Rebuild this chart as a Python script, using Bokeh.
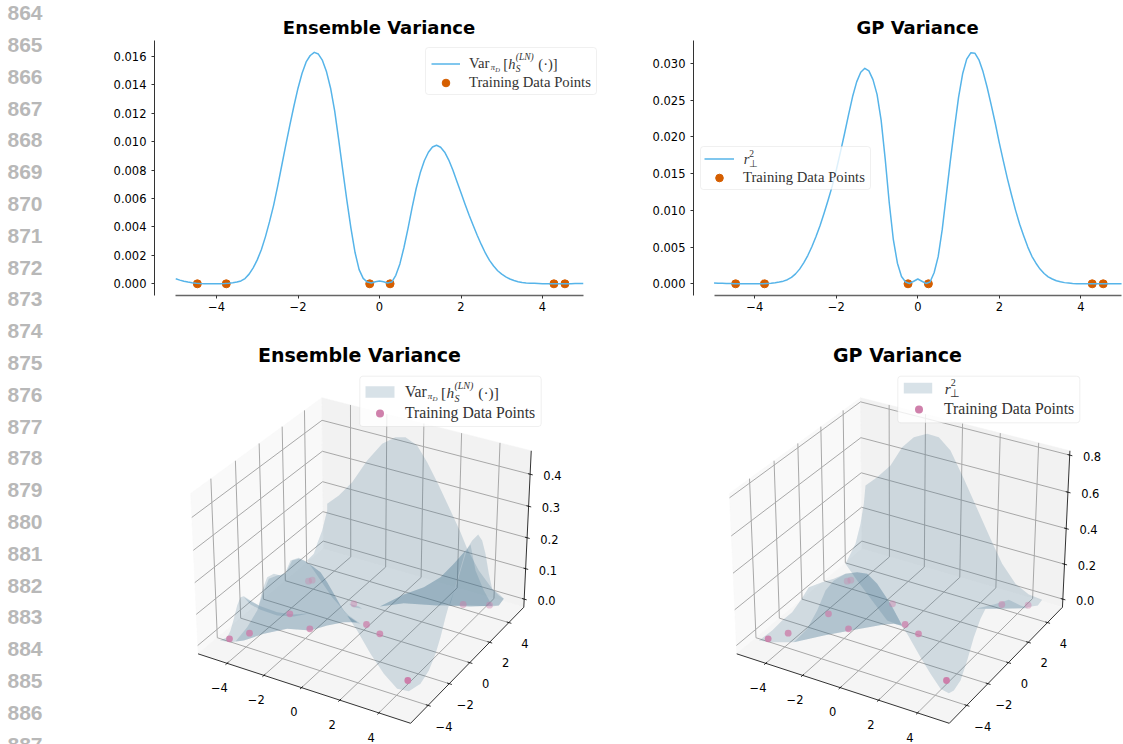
from bokeh.plotting import figure
from bokeh.layouts import row, column
from bokeh.models import (Range1d, FixedTicker, PrintfTickFormatter, Legend, LegendItem, Label, BoxAnnotation)
from bokeh.core.properties import value
from bokeh.embed import file_html
from bokeh.resources import INLINE
import numpy as np

# ------------------ data ------------------
LINE_NUMBERS = [str(n) for n in [864,865,866,867,868,869,870,871,872,873,874,875,876,877,878,879,880,881,882,883,884,885,886,887]]

CURVE_X = [round(-5 + 0.1 * i, 1) for i in range(101)]
ENSEMBLE_VAR = [0.35,0.26,0.18,0.12,0.07,0.04,0.02,0.01,0.0,0.0,0.0,0.01,0.02,0.04,0.07,0.12,0.2,0.37,0.68,1.12,
 1.68,2.4,3.3,4.35,5.5,6.85,8.3,9.75,11.15,12.5,13.75,14.8,15.6,16.05,16.27,16.15,15.7,14.9,13.75,12.15,
 10.1,7.95,5.85,3.9,2.2,1.0,0.38,0.12,0.06,0.14,0.2,0.14,0.05,0.12,0.6,1.4,2.55,3.9,5.35,6.7,
 7.8,8.65,9.25,9.62,9.74,9.6,9.25,8.7,8.0,7.2,6.4,5.6,4.82,4.1,3.4,2.75,2.15,1.65,1.25,0.92,
 0.68,0.49,0.34,0.23,0.15,0.09,0.06,0.04,0.03,0.02,0.01,0.01,0.0,0.0,0.0,0.01,0.01,0.01,0.02,0.02,0.02]
GP_VAR = [0.12,0.09,0.07,0.05,0.03,0.02,0.01,0.0,0.0,0.0,0.0,0.01,0.02,0.05,0.09,0.15,0.24,0.36,0.56,0.88,
 1.35,2.0,2.85,3.85,5.05,6.4,7.9,9.6,11.4,13.3,15.5,17.9,20.4,23.0,25.5,27.5,28.8,29.35,29.0,27.8,
 25.8,22.3,17.0,11.0,6.0,2.8,1.0,0.25,0.05,0.35,0.65,0.35,0.05,0.25,1.5,3.7,7.4,12.1,16.8,21.2,
 25.4,28.6,30.6,31.45,31.4,30.5,28.9,26.8,24.4,21.9,19.2,16.7,14.3,12.1,10.0,8.1,6.5,5.0,3.75,2.8,
 2.0,1.4,0.95,0.65,0.42,0.27,0.16,0.1,0.05,0.02,0.0,0.0,0.0,0.0,0.0,0.0,0.0,0.01,0.01,0.01,0.01]
TRAIN_X = [-4.47,-3.76,-0.24,0.26,4.28,4.55]
TRAIN_Y = [0,0,0,0,0,0]

X_TICKS = [-4,-2,0,2,4]
X_TICK_LABELS = ["\u22124","\u22122","0","2","4"]
A_Y_TICKS = [0,0.002,0.004,0.006,0.008,0.010,0.012,0.014,0.016]
B_Y_TICKS = [0,0.005,0.010,0.015,0.020,0.025,0.030]
C_Z_TICKS = [0.0,0.1,0.2,0.3,0.4]
C_Z_LABELS = ["0.0","0.1","0.2","0.3","0.4"]
D_Z_TICKS = [0.0,0.2,0.4,0.6,0.8]
D_Z_LABELS = ["0.0","0.2","0.4","0.6","0.8"]
XLIM3 = (-5.6,5.6)
YLIM3 = (-5.6,5.6)
C_ZLIM = (-0.027,0.472)
D_ZLIM = (-0.047,0.823)

# the 12 training points and surface silhouettes as they sit on the 3D panel's view plane
VIEW_X = [237,297,418,478,474,485,610,648,688,772,938,1017]
VIEW_Y = [895,878,820,865,722,719,790,852,880,1020,792,794]
VIEW_A = [0.85,0.75,0.65,0.7,0.3,0.3,0.4,0.7,0.75,0.95,0.45,0.4]

C_LAYERS = [
 [(530,490),(565,465),(605,425),(650,360),(695,310),(735,290),(765,290),(800,315),(830,365),(865,435),(900,510),(930,575),(950,625),(985,690),(1025,745),(1045,765),(1060,775),(1045,795),(960,798),(895,795),(885,830),(870,890),(855,940),(835,990),(810,1030),(775,1052),(740,1045),(700,1000),(660,940),(620,870),(580,810),(545,770),(490,690),(470,660),(490,640),(500,610),(515,570),(530,510)],
 [(208,900),(230,890),(240,870),(250,835),(260,795),(270,770),(280,767),(300,780),(325,795),(335,750),(350,710),(370,700),(390,705),(405,695),(420,660),(445,652),(465,662),(490,680),(510,695),(530,725),(550,760),(570,795),(590,825),(620,845),(580,845),(530,855),(480,870),(410,865),(340,880),(280,900),(240,905)],
 [(255,903),(290,860),(320,810),(335,765),(355,715),(380,705),(405,700),(425,660),(445,655),(465,662),(490,680),(510,695),(530,725),(550,760),(570,795),(590,825),(620,845),(580,845),(530,855),(480,870),(410,865),(340,880),(280,900)],
 [(280,770),(300,782),(330,797),(380,815),(430,822),(480,818),(430,828),(380,825),(330,808),(300,792)],
 [(575,805),(595,825),(630,850),(605,845)],
 [(595,790),(625,798),(635,805),(610,800)],
 [(983,582),(995,600),(1005,640),(1015,700),(1025,745),(1045,760),(1060,775),(1045,795),(1025,798),(960,795),(895,795),(920,725),(950,625),(965,600)],
 [(688,798),(760,762),(820,740),(870,710),(910,670),(950,625),(960,612),(975,690),(1000,750),(1025,796),(960,798),(860,795),(760,788)],
 [(688,798),(760,762),(820,740),(870,710),(910,670),(945,630),(925,700),(900,790),(860,795),(760,788)],
]
D_LAYERS = [
 [(495,435),(530,410),(570,375),(605,320),(640,290),(680,280),(715,290),(750,330),(790,415),(830,505),(870,595),(905,670),(945,730),(985,762),(1025,778),(1012,795),(960,803),(880,805),(855,805),(840,835),(820,890),(800,960),(780,1020),(760,1050),(745,1058),(720,1045),(690,1000),(660,950),(620,880),(605,858),(560,840),(530,800),(470,720),(435,670),(465,610),(480,550),(490,490)],
 [(175,900),(215,870),(245,840),(275,815),(300,780),(325,740),(365,725),(400,715),(435,700),(470,695),(500,700),(530,730),(570,790),(605,855),(580,850),(550,852),(450,870),(370,885),(280,905),(210,905)],
 [(280,905),(320,865),(350,810),(375,750),(400,720),(435,700),(470,695),(500,700),(530,730),(570,790),(605,855),(580,850),(550,852),(450,870),(370,885)],
 [(825,805),(880,792),(925,778),(960,795),(985,803),(900,805)],
]
D_VIEW_SHIFT = 34

# ------------------ style ------------------
LINE_C = "#56B4E9"; DOT_C = "#D55E00"; PINK = "#CC79A7"; SHEET = "#3c6e8c"; SHEET_A = 0.2
SERIF = "Liberation Serif"; INK = "#333333"; TICK_SIZE = "11.5px"

def plain(p):
    p.outline_line_color = None
    p.grid.visible = False
    p.background_fill_color = "white"
    p.border_fill_color = "white"

def put(p, left, bottom, px, py, s, size, style="normal", font=SERIF, color=INK, align="left"):
    p.add_layout(Label(x=px-left, y=bottom-py, x_units="screen", y_units="screen", text=s, level="overlay",
                       text_font=font, text_font_size=f"{size}px", text_font_style=style,
                       text_color=color, text_baseline="middle", text_align=align))

def var_text(p, left, bottom, x0, yc, k=1.0):
    put(p,left,bottom,x0+21*k,yc+3.5*k,"\u03c0",8.5*k,"italic")
    put(p,left,bottom,x0+25.5*k,yc+5.5*k,"D",6.5*k,"italic")
    put(p,left,bottom,x0+33.5*k,yc,"[",14.5*k)
    put(p,left,bottom,x0+38.5*k,yc,"h",14.5*k,"italic")
    put(p,left,bottom,x0+46*k,yc-6.5*k,"(LN)",9.5*k,"italic")
    put(p,left,bottom,x0+46*k,yc+5.5*k,"S",9.5*k,"italic")
    put(p,left,bottom,x0+68.5*k,yc,"(\u00b7)]",14.5*k)

def r_text(p, left, bottom, x0, yc, k=1.0):
    put(p,left,bottom,x0,yc,"r",14.5*k,"italic")
    put(p,left,bottom,x0+5.5*k,yc-5.5*k,"2",9.5*k)
    put(p,left,bottom,x0+5*k,yc+5*k,"\u22a5",10*k)

def panel_2d(title, fig_left, fig_w, spine_x, zero_px, y_scale, y_ticks, yvals, title_px):
    frame_bottom_px = 295
    p = figure(width=fig_w, height=320, output_backend="svg", toolbar_location=None,
               min_border_left=spine_x-fig_left, min_border_right=0, min_border_top=0, min_border_bottom=25,
               x_range=Range1d((spine_x-zero_px)/40.75, (fig_left+fig_w-zero_px)/40.75),
               y_range=Range1d(-(frame_bottom_px-283.3)/y_scale, 283.3/y_scale))
    plain(p)
    r_dots = p.scatter(TRAIN_X, TRAIN_Y, size=8, color=DOT_C, line_color=DOT_C)
    r_line = p.line(CURVE_X, [v/1000 for v in yvals], line_color=LINE_C, line_width=1.5, line_join="round")
    for ax in (p.xaxis, p.yaxis):
        ax.axis_line_color = "#333333"; ax.axis_line_width = 1
        ax.major_tick_line_color = "#333333"; ax.major_tick_in = 0; ax.major_tick_out = 3
        ax.minor_tick_line_color = None
        ax.major_label_text_font = "DejaVu Sans"; ax.major_label_text_font_size = TICK_SIZE
        ax.major_label_text_color = "black"; ax.major_label_standoff = 3
    p.yaxis.major_label_standoff = 5
    p.xaxis.ticker = FixedTicker(ticks=X_TICKS)
    p.xaxis.major_label_overrides = dict(zip(X_TICKS, X_TICK_LABELS))
    p.xaxis.bounds = (-5, 5)
    p.xaxis.axis_line_color = "#666666"; p.xaxis.axis_line_width = 1.5
    p.yaxis.ticker = FixedTicker(ticks=y_ticks)
    p.yaxis.bounds = (-(frame_bottom_px-283.3)/y_scale, (283.3-40)/y_scale)
    p.yaxis.formatter = PrintfTickFormatter(format="%.3f")
    put(p, spine_x, frame_bottom_px, title_px, 27, title, 18, "bold", "DejaVu Sans", "black", "center")
    return p, r_line, r_dots, spine_x, frame_bottom_px

def add_legend(p, left, bottom, box, items, x, y, pad, gh, sp, size, gw, st, lw):
    """box is the frame behind the legend; the legend itself carries keys and labels."""
    x0, y0, x1, y1 = box
    bg = BoxAnnotation(left=x0-left, right=x1-left, bottom=bottom-y1, top=bottom-y0,
                       left_units="screen", right_units="screen", top_units="screen", bottom_units="screen",
                       fill_color="white", fill_alpha=0.8, line_color="#cccccc", line_width=1, level="annotation")
    if "border_radius" in bg.properties():
        bg.border_radius = 3
    p.add_layout(bg)
    lg = Legend(items=items, location=(x, y), padding=pad, margin=0, spacing=sp, glyph_height=gh, glyph_width=gw,
                label_standoff=st, label_height=gh, label_width=lw, label_text_font=SERIF, label_text_font_size=f"{size}px",
                label_text_color=INK, border_line_color=None, background_fill_alpha=0)
    p.add_layout(lg, "center")

# ---- 3D projection: default oblique view, elevation 30, azimuth -60, distance 10
BOX = np.array([4.0,4.0,3.0]); BOX = BOX*1.8294640721620434*25/24/np.linalg.norm(BOX)
_el, _az = np.radians(30), np.radians(-60)
_R = 0.5*BOX
_eye = _R + 10*np.array([np.cos(_el)*np.cos(_az), np.cos(_el)*np.sin(_az), np.sin(_el)])
_w = (_eye-_R)/np.linalg.norm(_eye-_R)
_u = np.cross([0,0,1.0],_w); _u = _u/np.linalg.norm(_u)
_v = np.cross(_w,_u)

def raw_view(uvw):
    q = (np.asarray(uvw,float)*BOX) - _eye
    return np.c_[q@_u/(-(q@_w)), q@_v/(-(q@_w))]

_corners = [(0,0,0,142,938),(1,0,0,782,1150),(1,1,0,1120,800),(0,1,0,515,625),(0,1,1,515,172),(0,0,1,122,460),(1,1,1,1142,330)]
_src = raw_view([c[:3] for c in _corners]); _dst = np.array([c[3:] for c in _corners],float)
_M = np.linalg.lstsq(np.c_[_src,np.ones(len(_src))], _dst, rcond=None)[0]

def view(u,v,w):
    n = np.broadcast(u,v,w).size
    uvw = np.c_[np.broadcast_to(u,(n,)),np.broadcast_to(v,(n,)),np.broadcast_to(w,(n,))]
    s = raw_view(uvw)
    out = np.c_[s,np.ones(n)]@_M
    return out[:,0], out[:,1]

def panel_3d(title, fig_left, fig_w, zoom_left, shift, zlim, zt, zl, layers, title_px):
    p = figure(width=fig_w, height=424, output_backend="svg", toolbar_location=None, min_border=0,
               x_axis_location=None, y_axis_location=None,
               x_range=Range1d((fig_left-zoom_left)*3+shift,(fig_left+fig_w-zoom_left)*3+shift),
               y_range=Range1d(1212,-60))
    plain(p)
    # panes
    for pts,c in (([(0,0,0),(0,1,0),(0,1,1),(0,0,1)],"#f9f9f9"),([(0,1,0),(1,1,0),(1,1,1),(0,1,1)],"#f2f2f2"),([(0,0,0),(1,0,0),(1,1,0),(0,1,0)],"#f5f5f5")):
        a = np.array(pts,float); xx,yy = view(a[:,0],a[:,1],a[:,2])
        p.patch(xx,yy,fill_color=c,line_color=c,line_width=0.5)
    xu = (np.array(X_TICKS)-XLIM3[0])/(XLIM3[1]-XLIM3[0])
    yu = (np.array(X_TICKS)-YLIM3[0])/(YLIM3[1]-YLIM3[0])
    zu = (np.array(zt)-zlim[0])/(zlim[1]-zlim[0])
    gx,gy = [],[]
    for t in xu:
        a,b = view([t,t,t],[0,1,1],[0,0,1]); gx.append(a); gy.append(b)
    for t in yu:
        a,b = view([1,0,0],[t,t,t],[0,0,1]); gx.append(a); gy.append(b)
    for t in zu:
        a,b = view([0,0,1],[0,1,1],[t,t,t]); gx.append(a); gy.append(b)
    p.multi_line([list(a) for a in gx],[list(b) for b in gy],line_color="#a8a8a8",line_width=1)
    # axis lines and ticks
    ax,ay = [],[]
    for s,e in (((0,0,0),(1,0,0)),((1,0,0),(1,1,0)),((1,1,0),(1,1,1))):
        a,b = view([s[0],e[0]],[s[1],e[1]],[s[2],e[2]]); ax.append(list(a)); ay.append(list(b))
    for t in xu:
        a,b = view([t,t],[-0.012,0.01],[0,0]); ax.append(list(a)); ay.append(list(b))
    for t in yu:
        a,b = view([1.012,0.99],[t,t],[0,0]); ax.append(list(a)); ay.append(list(b))
    for t in zu:
        a,b = view([0.99,1.012],[1,1],[t,t]); ax.append(list(a)); ay.append(list(b))
    p.multi_line(ax,ay,line_color="black",line_width=0.8)
    # surface
    for lay in layers:
        p.patch([q[0]+shift for q in lay],[q[1] for q in lay],fill_color=SHEET,fill_alpha=SHEET_A,line_color=None)
    dots = p.scatter(VIEW_X,VIEW_Y,size=6.8,fill_color=PINK,line_color=None,fill_alpha=VIEW_A)
    # tick labels
    tf = value("DejaVu Sans")
    a,b = view(xu,0*xu,0*xu)
    p.text(a-23,b+73,text=X_TICK_LABELS,text_font=tf,text_font_size=TICK_SIZE,text_align="center",text_baseline="middle",text_color="black")
    a,b = view(1+0*yu,yu,0*yu)
    p.text(a+48,b+62,text=X_TICK_LABELS,text_font=tf,text_font_size=TICK_SIZE,text_align="center",text_baseline="middle",text_color="black")
    a,b = view(1+0*zu,1+0*zu,zu)
    p.text(a+67,b+4,text=zl,text_font=tf,text_font_size=TICK_SIZE,text_align="center",text_baseline="middle",text_color="black")
    put(p,fig_left,744,title_px,354.5,title,19,"bold","DejaVu Sans","black","center")
    return p,dots

def key_box(p, left, x0, x1, y0, y1):
    p.add_layout(BoxAnnotation(left=x0-left,right=x1-left,bottom=744-y1,top=744-y0,left_units="screen",right_units="screen",
                               top_units="screen",bottom_units="screen",fill_color=SHEET,fill_alpha=SHEET_A,line_color=None,level="overlay"))

# ---- gutter
gut = figure(width=100,height=744,output_backend="svg",toolbar_location=None,min_border=0,
             x_axis_location=None,y_axis_location=None,x_range=Range1d(0,100),y_range=Range1d(744,0))
plain(gut)
gut.text([7]*len(LINE_NUMBERS),[12.7+31.8*i for i in range(len(LINE_NUMBERS))],text=LINE_NUMBERS,
         text_font=value("Liberation Sans"),text_font_size="21px",text_font_style="bold",text_color="#b8b8b8",text_baseline="middle")

# ---- top row
a,la,da,l,bt = panel_2d("Ensemble Variance",100,500,154,379,14225,A_Y_TICKS,ENSEMBLE_VAR,378.5)
add_legend(a,l,bt,(425,47,596,94),[LegendItem(label="Var",renderers=[la]),LegendItem(label="Training Data Points",renderers=[da])],277,203,5,19,0,14.7,29,9,122)
var_text(a,l,bt,469.3,63)
b,lb,db,l2,bt2 = panel_2d("GP Variance",600,523,693,917.3,7343,B_Y_TICKS,GP_VAR,917)
add_legend(b,l2,bt2,(700,146,870,189),[LegendItem(label="\u00a0",renderers=[lb]),LegendItem(label="Training Data Points",renderers=[db])],11,108,3,19,0,14.7,30,9,124)
r_text(b,l2,bt2,743.3,158)

# ---- bottom row
c,dc = panel_3d("Ensemble Variance",100,500,150,0,C_ZLIM,C_Z_TICKS,C_Z_LABELS,C_LAYERS,359)
ghost_c = c.patch([],[],fill_alpha=0,line_alpha=0)
add_legend(c,100,744,(359.3,375.7,540.7,426),[LegendItem(label="Var",renderers=[ghost_c]),LegendItem(label="Training Data Points",renderers=[dc],index=9)],265,321,5,20,1,15.7,29,11,131)
key_box(c,100,365,394,385.7,397.3)
var_text(c,100,744,405,391.7,1.0625)
d,dd = panel_3d("GP Variance",600,523,700,D_VIEW_SHIFT,D_ZLIM,D_Z_TICKS,D_Z_LABELS,D_LAYERS,897)
ghost_d = d.patch([],[],fill_alpha=0,line_alpha=0)
add_legend(d,600,744,(897.3,375.7,1079.3,422.3),[LegendItem(label="\u00a0",renderers=[ghost_d]),LegendItem(label="Training Data Points",renderers=[dd],index=9)],301,325,3,20,1,15.7,35,8,133)
key_box(d,600,903.3,931.7,382.3,393)
r_text(d,600,744,944.3,387.7,1.0625)

page = row(gut, column(row(a,b,spacing=0), row(c,d,spacing=0), spacing=0), spacing=0)
page.styles = {"position":"absolute","left":"0px","top":"0px"}
open("out.html","w").write(file_html(page, INLINE))
